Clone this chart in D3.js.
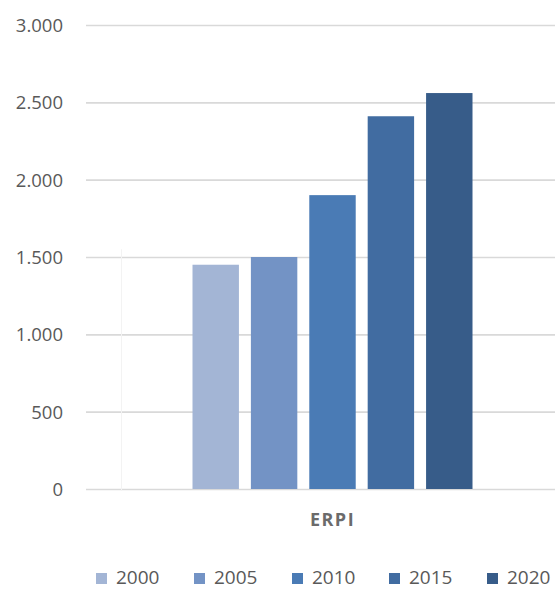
<!DOCTYPE html>
<html>
<head>
<meta charset="utf-8">
<script src="https://cdn.jsdelivr.net/npm/d3@7"></script>
<style>
  html, body { margin: 0; padding: 0; background: #ffffff; }
  svg { display: block; }
  text { font-family: "Open Sans", "Liberation Sans", sans-serif; }
</style>
</head>
<body>
<svg id="chart" width="555" height="589"></svg>
<script>
// Indicator and yearly series
const categories = ["ERPI"];
const years = ["2000", "2005", "2010", "2015", "2020"];
const values2000 = [1450];
const values2005 = [1500];
const values2010 = [1900];
const values2015 = [2410];
const values2020 = [2560];
const yTicks = [0, 500, 1000, 1500, 2000, 2500, 3000];
const yearColors = ["#a3b5d5", "#7393c5", "#4a7bb5", "#416ca1", "#375c89"];

const seriesByYear = {
  "2000": values2000,
  "2005": values2005,
  "2010": values2010,
  "2015": values2015,
  "2020": values2020
};

const svg = d3.select("#chart");
const plot = { left: 86, right: 555, top: 25, bottom: 489, bandLeft: 110 };

const numFmt = d3.formatLocale({ decimal: ",", thousands: ".", grouping: [3], currency: ["", ""] }).format(",d");

const y = d3.scaleLinear().domain([0, 3000]).range([plot.bottom, plot.top]);

const x0 = d3.scaleBand().domain(categories).range([plot.bandLeft, plot.right]).padding(0);
const groupWidth = 280;
const x1 = d3.scaleBand()
  .domain(years)
  .range([(x0.bandwidth() - groupWidth) / 2, (x0.bandwidth() + groupWidth) / 2])
  .paddingInner(0.205)
  .paddingOuter(0);
const color = d3.scaleOrdinal().domain(years).range(yearColors);

// Gridlines and value axis
const yAxis = d3.axisLeft(y)
  .tickValues(yTicks)
  .tickSize(-(plot.right - plot.left))
  .tickPadding(23)
  .tickFormat(numFmt);

const gy = svg.append("g")
  .attr("transform", `translate(${plot.left},0)`)
  .call(yAxis);
gy.select(".domain").remove();
gy.selectAll(".tick line").attr("stroke", "#d9d9d9").attr("stroke-width", 1.6);
gy.selectAll(".tick text")
  .attr("fill", "#595959")
  .attr("font-size", 18.5)
  .attr("dy", "0.35em");

// faint inner frame edge of the plot
svg.append("line")
  .attr("x1", 121.5).attr("x2", 121.5)
  .attr("y1", y(1550)).attr("y2", plot.bottom + 2)
  .attr("stroke", "#f3f3f3").attr("stroke-width", 1);

// Bars
const groups = svg.append("g")
  .selectAll("g")
  .data(categories)
  .join("g")
  .attr("transform", d => `translate(${x0(d)},0)`);

groups.selectAll("rect")
  .data((d, i) => years.map(yr => ({ year: yr, value: seriesByYear[yr][i] })))
  .join("rect")
  .attr("x", d => x1(d.year))
  .attr("width", x1.bandwidth())
  .attr("y", d => y(d.value))
  .attr("height", d => y(0) - y(d.value))
  .attr("fill", d => color(d.year));

// Category label
svg.append("g")
  .selectAll("text")
  .data(categories)
  .join("text")
  .attr("x", d => x0(d) + x0.bandwidth() / 2)
  .attr("y", 526)
  .attr("text-anchor", "middle")
  .attr("font-size", 18)
  .attr("font-weight", "bold")
  .attr("letter-spacing", 1.5)
  .attr("fill", "#6b6b6b")
  .text(d => d);

// Legend
const legendX = [96, 194, 292, 389, 487];
const legend = svg.append("g")
  .selectAll("g")
  .data(years)
  .join("g")
  .attr("transform", (d, i) => `translate(${legendX[i]},573)`);

legend.append("rect")
  .attr("width", 11)
  .attr("height", 11)
  .attr("fill", d => color(d));

legend.append("text")
  .attr("x", 20)
  .attr("y", 11)
  .attr("font-size", 19)
  .attr("fill", "#595959")
  .text(d => d);
</script>
</body>
</html>
